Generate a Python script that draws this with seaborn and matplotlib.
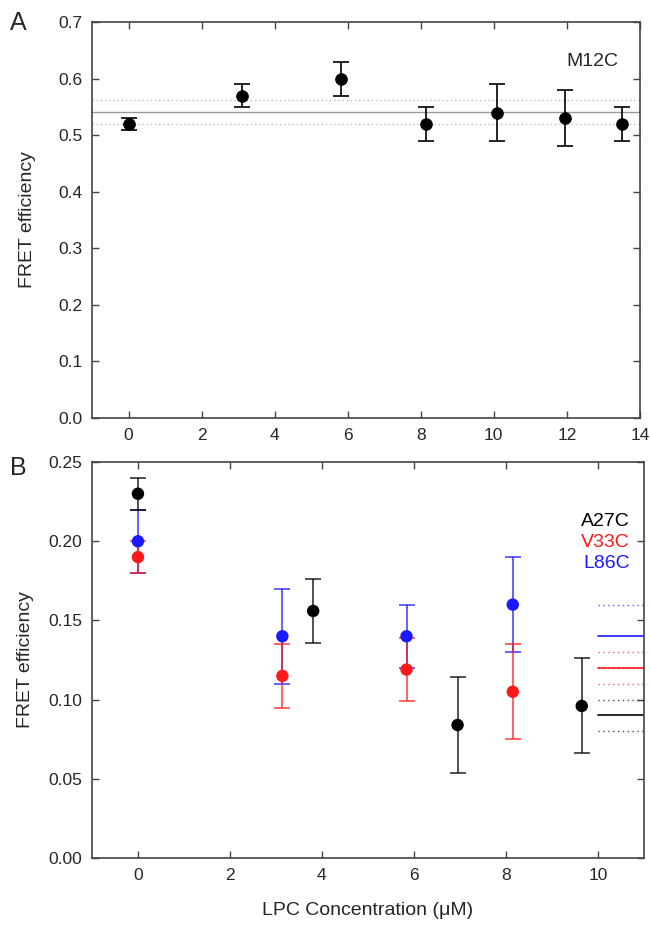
import numpy as np
import pandas as pd
import matplotlib
matplotlib.use("Agg")
import matplotlib.pyplot as plt
import seaborn as sns

# Panel A - M12C
conc_a = [0.0, 3.1, 5.83, 8.15, 10.1, 11.95, 13.5]
fret_a = [0.52, 0.57, 0.60, 0.52, 0.54, 0.53, 0.52]
err_a = [0.01, 0.02, 0.03, 0.03, 0.05, 0.05, 0.03]
mean_a = 0.541
sd_a = 0.021

# Panel B - three mutants
conc_a27c = [0.0, 3.81, 6.95, 9.65]
fret_a27c = [0.23, 0.156, 0.084, 0.096]
err_a27c = [0.01, 0.02, 0.03, 0.03]

conc_v33c = [0.0, 3.14, 5.84, 8.15]
fret_v33c = [0.19, 0.115, 0.119, 0.105]
err_v33c = [0.01, 0.02, 0.02, 0.03]

conc_l86c = [0.0, 3.14, 5.84, 8.15]
fret_l86c = [0.20, 0.14, 0.14, 0.16]
err_l86c = [0.02, 0.03, 0.02, 0.03]

# mean +/- sd marks at the right edge of panel B
means_b = {"L86C": (0.14, 0.02), "V33C": (0.12, 0.01), "A27C": (0.09, 0.01)}
colors = {"A27C": "black", "V33C": "#ff1a1a", "L86C": "#1a1aff"}

sns.set_style("ticks")
plt.rcParams['font.family'] = ['Liberation Sans', 'DejaVu Sans']

fig = plt.figure(figsize=(6.5, 9.26), dpi=100)
ax1 = fig.add_axes([0.1415, 0.5486, 0.843, 0.4276])
ax2 = fig.add_axes([0.1415, 0.0734, 0.849, 0.4276])

spine_col = "#444444"
for ax in (ax1, ax2):
    for s in ax.spines.values():
        s.set_color(spine_col)
        s.set_linewidth(1.2)
    ax.tick_params(direction="in", top=True, right=True, length=5,
                   width=1.0, color=spine_col, labelsize=12.5, pad=7)

# ---- Panel A
ax1.axhline(mean_a, color="#999999", lw=1.0, zorder=1)
ax1.axhline(mean_a + sd_a, color="#bbbbbb", lw=1.0, ls=(0, (1, 2)), zorder=1)
ax1.axhline(mean_a - sd_a, color="#bbbbbb", lw=1.0, ls=(0, (1, 2)), zorder=1)
ax1.errorbar(conc_a, fret_a, yerr=err_a, fmt="none", ecolor="black",
             elinewidth=1.2, capsize=6, capthick=1.2, zorder=2)
df_a = pd.DataFrame({"conc": conc_a, "fret": fret_a})
sns.scatterplot(data=df_a, x="conc", y="fret", ax=ax1, color="black",
                s=70, edgecolor="black", zorder=3, legend=False)
ax1.set_xlim(-1, 14)
ax1.set_ylim(0, 0.7)
ax1.set_xticks(np.arange(0, 15, 2))
ax1.set_yticks(np.arange(0, 0.71, 0.1))
ax1.yaxis.set_major_formatter(matplotlib.ticker.FormatStrFormatter("%.1f"))
ax1.set_xlabel("")
ax1.set_ylabel("FRET efficiency", fontsize=14, labelpad=16)
ax1.text(0.96, 0.9, "M12C", transform=ax1.transAxes, ha="right",
         va="center", fontsize=14)
fig.text(0.015, 0.975, "A", fontsize=18, va="center")

# ---- Panel B
series = [("L86C", conc_l86c, fret_l86c, err_l86c),
          ("V33C", conc_v33c, fret_v33c, err_v33c),
          ("A27C", conc_a27c, fret_a27c, err_a27c)]
rows = []
for i, (name, x, y, e) in enumerate(series):
    ax2.errorbar(x, y, yerr=e, fmt="none", ecolor=colors[name], alpha=0.8,
                 elinewidth=1.2, capsize=6, capthick=1.2, zorder=2 + i)
    for xx, yy in zip(x, y):
        rows.append({"conc": xx, "fret": yy, "mutant": name})
df_b = pd.DataFrame(rows)
sns.scatterplot(data=df_b, x="conc", y="fret", hue="mutant", palette=colors,
                s=80, edgecolor="none", ax=ax2, zorder=6, legend=False)

for name, (m, sd) in means_b.items():
    c = colors[name]
    ax2.plot([10, 11], [m, m], color=c, lw=1.2, zorder=2)
    for v in (m - sd, m + sd):
        ax2.plot([10, 11], [v, v], color=c, lw=1.0, ls=(0, (1, 2.5)),
                 alpha=0.7, zorder=2)

ax2.set_xlim(-1, 11)
ax2.set_ylim(0, 0.25)
ax2.set_xticks(np.arange(0, 11, 2))
ax2.set_yticks(np.arange(0, 0.251, 0.05))
ax2.yaxis.set_major_formatter(matplotlib.ticker.FormatStrFormatter("%.2f"))
ax2.set_xlabel("LPC Concentration (\u03bcM)", fontsize=14, labelpad=14)
ax2.set_ylabel("FRET efficiency", fontsize=14, labelpad=10)
for j, name in enumerate(["A27C", "V33C", "L86C"]):
    ax2.text(0.975, 0.85 - j * 0.053, name, transform=ax2.transAxes,
             ha="right", va="center", fontsize=14, color=colors[name])
fig.text(0.015, 0.495, "B", fontsize=18, va="center")

fig.savefig("out.png", dpi=100)
